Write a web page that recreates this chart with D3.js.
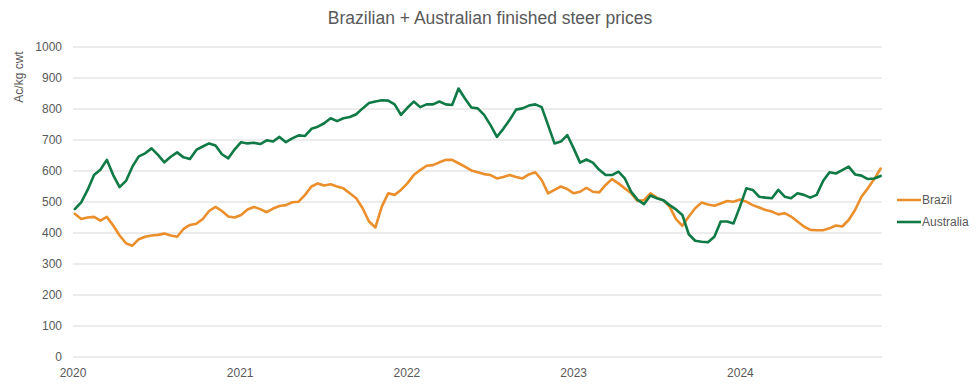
<!DOCTYPE html>
<html>
<head>
<meta charset="utf-8">
<script src="https://cdn.jsdelivr.net/npm/d3@7"></script>
<style>
  body { margin: 0; background: #fff; }
  svg text { font-family: "Liberation Sans", Arial, sans-serif; fill: #595959; }
</style>
</head>
<body>
<div id="chart"></div>
<script>
// fortnightly readings, first one 5 Jan 2020
const startDate = "2020-01-05";
const stepDays = 14;

const brazil = [
  462, 445, 450, 452, 440, 452, 424, 392, 367, 359,
  380, 388, 392, 394, 398, 392, 388, 413, 426, 430,
  445, 471, 484, 471, 453, 450, 458, 476, 484, 477,
  467, 479, 487, 490, 499, 501, 523, 550, 560, 553,
  557, 550, 544, 528, 512, 480, 437, 418, 485, 528,
  523, 539, 560, 587, 603, 617, 619, 628, 636, 636,
  625, 614, 602, 596, 590, 587, 576, 581, 587, 581,
  576, 589, 596, 571, 528, 539, 550, 542, 528, 533,
  546, 533, 531, 555, 574, 560, 544, 528, 503, 506,
  528, 514, 506, 485, 445, 423, 453, 480, 498, 492,
  488, 495, 503, 501, 508, 501, 490, 482, 474, 469,
  460, 464, 453, 437, 421, 410, 409, 409, 415, 424,
  421, 442, 474, 517, 544, 574, 608
];

const australia = [
  477, 499, 539, 587, 604, 636, 587, 548, 568, 614,
  647, 657, 673, 652, 628, 646, 660, 644, 639, 668,
  679, 689, 682, 654, 641, 670, 693, 689, 691, 687,
  699, 695, 710, 693, 705, 715, 713, 736, 743, 754,
  770, 761, 770, 774, 783, 802, 819, 824, 828, 827,
  815, 781, 804, 824, 806, 815, 815, 824, 815, 813,
  866, 834, 805, 802, 781, 748, 710, 736, 765, 798,
  802, 811, 815, 806, 748, 689, 695, 716, 673, 627,
  637, 627, 604, 587, 587, 598, 576, 533, 507, 493,
  521, 512, 506, 490, 476, 458, 396, 375, 372, 370,
  388, 437, 437, 431, 485, 544, 539, 517, 514, 512,
  539, 517, 512, 528, 523, 514, 523, 568, 596, 592,
  603, 614, 589, 585, 574, 576, 584
];

const yTicks = [0, 100, 200, 300, 400, 500, 600, 700, 800, 900, 1000];
const yearTicks = ["2020", "2021", "2022", "2023", "2024"];

const seriesNames = ["Brazil", "Australia"];
const seriesColors = ["#EA8F2B", "#0F7A45"];

const width = 979, height = 389;
const margin = { top: 47, right: 97, bottom: 32, left: 73 };

const parse = d3.timeParse("%Y-%m-%d");
const dates = brazil.map((d, i) => d3.timeDay.offset(parse(startDate), i * stepDays));

const svg = d3.select("#chart").append("svg")
    .attr("width", width)
    .attr("height", height);

const x = d3.scaleTime()
    .domain([parse("2020-01-01"), d3.timeDay.offset(dates[dates.length - 1], 3)])
    .range([margin.left, width - margin.right]);

const y = d3.scaleLinear()
    .domain([0, 1000])
    .range([height - margin.bottom, margin.top]);

// title
svg.append("text")
    .attr("x", 490)
    .attr("y", 24)
    .attr("text-anchor", "middle")
    .style("font-size", "17.5px")
    .text("Brazilian + Australian finished steer prices");

// y axis title
svg.append("text")
    .attr("transform", "translate(23,77) rotate(-90)")
    .attr("text-anchor", "middle")
    .style("font-size", "12px")
    .text("Ac/kg cwt");

// gridlines
svg.append("g")
    .selectAll("line")
    .data(yTicks)
    .enter()
    .append("line")
    .attr("x1", margin.left)
    .attr("x2", width - margin.right)
    .attr("y1", d => y(d))
    .attr("y2", d => y(d))
    .attr("stroke", "#d9d9d9")
    .attr("stroke-width", 1);

// y tick labels
svg.append("g")
    .selectAll("text")
    .data(yTicks)
    .enter()
    .append("text")
    .attr("x", 62)
    .attr("y", d => y(d) + 4)
    .attr("text-anchor", "end")
    .style("font-size", "12px")
    .text(d => d);

// year labels
svg.append("g")
    .selectAll("text")
    .data(yearTicks)
    .enter()
    .append("text")
    .attr("x", d => x(parse(d + "-01-01")))
    .attr("y", 377)
    .attr("text-anchor", "middle")
    .style("font-size", "12px")
    .text(d => d);

const line = d3.line()
    .x((d, i) => x(dates[i]))
    .y(d => y(d));

[brazil, australia].forEach((s, i) => {
    svg.append("path")
        .datum(s)
        .attr("fill", "none")
        .attr("stroke", seriesColors[i])
        .attr("stroke-width", 2.6)
        .attr("stroke-linejoin", "round")
        .attr("stroke-linecap", "round")
        .attr("d", line);
});

// legend
const legend = svg.append("g");
seriesNames.forEach((name, i) => {
    const ly = 200 + i * 22;
    legend.append("line")
        .attr("x1", 897)
        .attr("x2", 921)
        .attr("y1", ly)
        .attr("y2", ly)
        .attr("stroke", seriesColors[i])
        .attr("stroke-width", 2.6);
    legend.append("text")
        .attr("x", 922)
        .attr("y", ly + 4)
        .style("font-size", "12px")
        .text(name);
});
</script>
</body>
</html>
